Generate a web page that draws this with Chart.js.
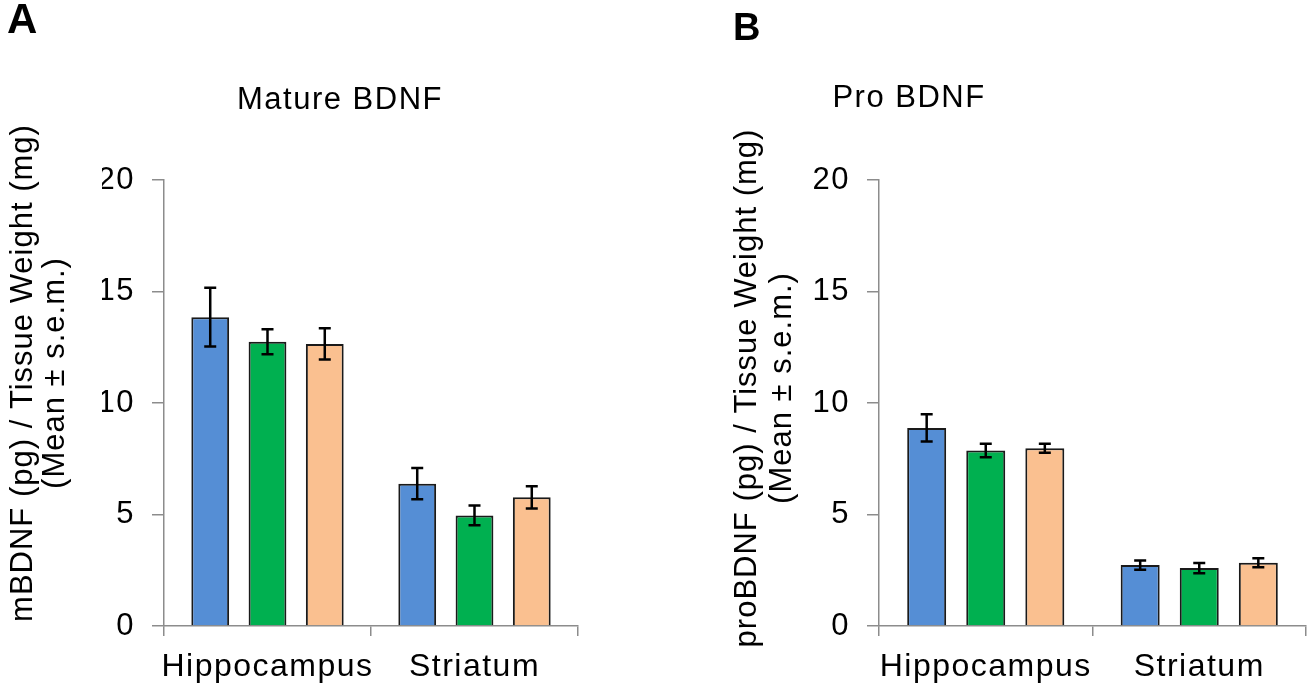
<!DOCTYPE html>
<html><head><meta charset="utf-8">
<script src="https://cdn.jsdelivr.net/npm/chart.js@4.4.1/dist/chart.umd.min.js"></script>
<style>
html,body{margin:0;padding:0;background:#fff;width:1309px;height:686px;overflow:hidden}
#wrap{position:relative;width:1309px;height:686px}
canvas{position:absolute;top:0}
.pl{position:absolute;font-family:"Liberation Sans",Arial,sans-serif;font-weight:bold;color:#000;margin:0}
</style></head>
<body><div id="wrap">
<canvas id="ca" width="640" height="686" style="left:0;width:640px;height:686px"></canvas>
<canvas id="cb" width="800" height="686" style="left:509px;width:800px;height:686px"></canvas>
<div class="pl" style="left:7px;top:-2px;font-size:42px;line-height:42px">A</div>
<div class="pl" style="left:733px;top:8px;font-size:38px;line-height:38px">B</div>
</div>
<script>
// ---- data ----
const categories = ['Hippocampus', 'Striatum'];
const yTicksMin = 0, yTicksMax = 20, yTickStep = 5;

const matureBlue = [13.85, 6.38];
const matureGreen = [12.75, 4.96];
const matureOrange = [12.65, 5.77];
const matureBlueErr = [1.32, 0.70];
const matureGreenErr = [0.56, 0.44];
const matureOrangeErr = [0.70, 0.50];

const proBlue = [8.88, 2.73];
const proGreen = [7.87, 2.60];
const proOrange = [7.97, 2.84];
const proBlueErr = [0.61, 0.21];
const proGreenErr = [0.30, 0.23];
const proOrangeErr = [0.20, 0.20];

const titleA = 'Mature BDNF';
const titleB = 'Pro BDNF';
const yTitleA = ['mBDNF (pg) / Tissue Weight (mg)', '(Mean ± s.e.m.)'];
const yTitleB = ['proBDNF (pg) / Tissue Weight (mg)', '(Mean ± s.e.m.)'];

// ---- styles ----
const FAMILY = "'Liberation Sans', Arial, sans-serif";
const AXIS = '#8c8c8c';
const COLORS = ['#558ED5', '#00B050', '#FAC090'];
const SPACING = '1.5px';

const spacingPlugin = {
  id: 'spacing',
  beforeUpdate(chart) { chart.ctx.letterSpacing = SPACING; },
  beforeDraw(chart) { chart.ctx.letterSpacing = SPACING; }
};

const axisTitlePlugin = {
  id: 'axisTitle',
  afterDraw(chart, args, opts) {
    const ctx = chart.ctx;
    ctx.save();
    ctx.letterSpacing = opts.spacing;
    ctx.font = opts.font;
    ctx.fillStyle = '#000';
    ctx.textAlign = 'center';
    ctx.textBaseline = 'alphabetic';
    opts.lines.forEach((t, i) => {
      ctx.save();
      ctx.translate(opts.x[i], opts.y);
      ctx.rotate(-Math.PI / 2);
      ctx.fillText(t, 0, 0);
      ctx.restore();
    });
    ctx.restore();
  }
};

const errorBarPlugin = {
  id: 'errorBars',
  afterDatasetsDraw(chart, args, opts) {
    const ctx = chart.ctx, ys = chart.scales.y;
    ctx.save();
    ctx.strokeStyle = opts.color;
    ctx.lineWidth = opts.width;
    chart.data.datasets.forEach((ds, i) => {
      const meta = chart.getDatasetMeta(i);
      meta.data.forEach((bar, j) => {
        const v = ds.data[j], e = ds.errors[j];
        const x = bar.x, yt = ys.getPixelForValue(v + e), yb = ys.getPixelForValue(v - e);
        const h = opts.capWidth / 2;
        ctx.beginPath();
        ctx.moveTo(x, yt); ctx.lineTo(x, yb);
        ctx.moveTo(x - h, yt); ctx.lineTo(x + h, yt);
        ctx.moveTo(x - h, yb); ctx.lineTo(x + h, yb);
        ctx.stroke();
      });
    });
    ctx.restore();
  }
};

function makeChart(id, title, titlePad, series, errs, padLeft, yWidth, padRight, yTitle) {
  const datasets = series.map((d, i) => ({
    data: d,
    errors: errs[i],
    backgroundColor: COLORS[i],
    borderColor: '#1a1a1a',
    borderWidth: 2,
    barPercentage: 0.66,
    categoryPercentage: 0.83
  }));
  return new Chart(document.getElementById(id), {
    type: 'bar',
    data: { labels: categories, datasets },
    plugins: [spacingPlugin, axisTitlePlugin, errorBarPlugin],
    options: {
      responsive: false,
      animation: false,
      devicePixelRatio: 1,
      layout: { padding: { left: padLeft, right: padRight, top: 0, bottom: 0 } },
      plugins: {
        legend: { display: false },
        tooltip: { enabled: false },
        title: {
          display: true, text: title, color: '#000',
          font: { family: FAMILY, size: 31, weight: 'normal' },
          padding: titlePad
        },
        axisTitle: yTitle,
        errorBars: { color: '#000', width: 2.5, capWidth: 12 }
      },
      scales: {
        x: {
          offset: true,
          grid: { offset: true, drawOnChartArea: false, drawTicks: true, tickLength: 10, color: AXIS, lineWidth: 1.5 },
          border: { display: true, color: AXIS, width: 1.5 },
          ticks: { font: { family: FAMILY, size: 32 }, color: '#000', padding: 12,
                   maxRotation: 0, minRotation: 0, autoSkip: false },
          afterFit(s) { s.height = 60; }
        },
        y: {
          min: yTicksMin, max: yTicksMax,
          ticks: { stepSize: yTickStep, font: { family: FAMILY, size: 31 }, color: '#000', padding: 17 },
          grid: { drawOnChartArea: false, drawTicks: true, tickLength: 12, color: AXIS, lineWidth: 1.5 },
          border: { display: true, color: AXIS, width: 1.5 },
          afterFit(s) { s.width = yWidth; }
        }
      }
    }
  });
}

// Panel A: canvas at x=0, title box [102,578] -> centred at 340, plot 164..578
makeChart('ca', titleA, { top: 82, bottom: 60.8 },
  [matureBlue, matureGreen, matureOrange],
  [matureBlueErr, matureGreenErr, matureOrangeErr],
  102, 62, 62,
  { lines: yTitleA, x: [31.5, 64], y: 373, font: "31px 'Liberation Sans', Arial, sans-serif", spacing: '1px' });

// Panel B: canvas at x=509, title box [512,1306] -> centred at 909, plot 879..1306
makeChart('cb', titleB, { top: 79.4, bottom: 63.4 },
  [proBlue, proGreen, proOrange],
  [proBlueErr, proGreenErr, proOrangeErr],
  3, 367, 3,
  { lines: yTitleB, x: [247, 282], y: 388, font: "31px 'Liberation Sans', Arial, sans-serif", spacing: '1px' });
</script>
</body></html>
